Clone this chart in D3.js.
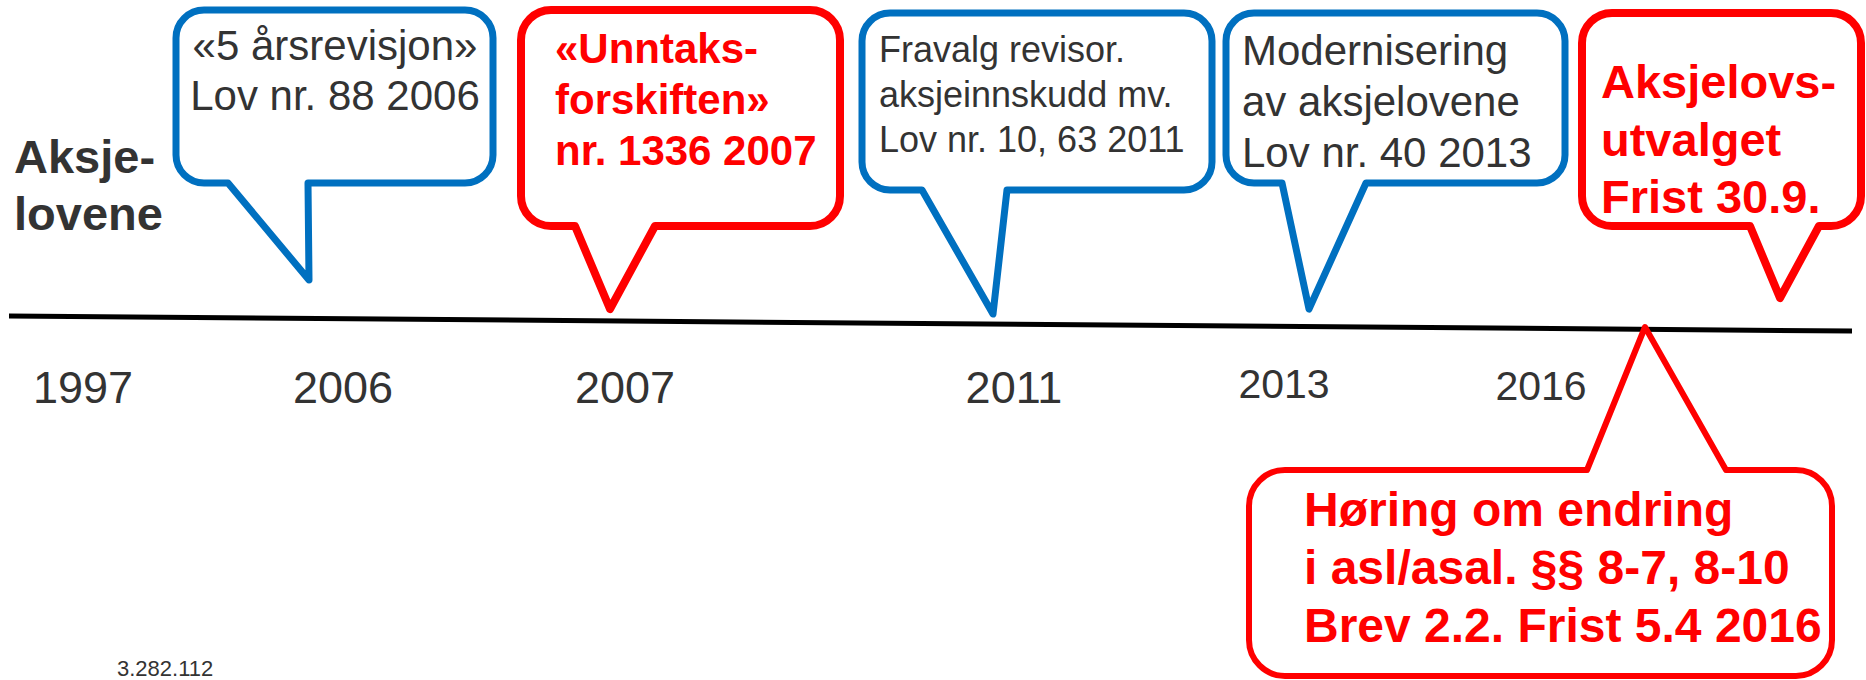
<!DOCTYPE html>
<html>
<head>
<meta charset="utf-8">
<script src="https://cdn.jsdelivr.net/npm/d3@7"></script>
<style>
  html, body { margin: 0; padding: 0; background: #ffffff; }
  svg { display: block; }
  text { font-family: "Liberation Sans", Arial, Helvetica, sans-serif; }
</style>
</head>
<body>
<div id="chart"></div>
<script>
// ---------------- data ----------------
const titleLines = ["Aksje-", "lovene"];
const years = ["1997", "2006", "2007", "2011", "2013", "2016"];
const eventLines = [
  ["«5 årsrevisjon»", "Lov nr. 88 2006"],
  ["«Unntaks-", "forskiften»", "nr. 1336 2007"],
  ["Fravalg revisor.", "aksjeinnskudd mv.", "Lov nr. 10, 63 2011"],
  ["Modernisering", "av aksjelovene", "Lov nr. 40 2013"],
  ["Aksjelovs-", "utvalget", "Frist 30.9."],
  ["Høring om endring", "i asl/asal. §§ 8-7, 8-10", "Brev 2.2. Frist 5.4 2016"]
];
const eventKinds = ["law", "highlight", "law", "law", "highlight", "highlight"];
const footnote = "3.282.112";

// ---------------- layout (positions / styles) ----------------
const W = 1866, H = 680;
const timelineEnds = [[9, 316], [1852, 331]];
const yearCenters = [83, 343, 625, 1014, 1284, 1541];
const yearBaselines = [403, 403, 403, 403, 398, 400];
const yearSizes = [45, 45, 45, 45, 41, 41];

const bubbleLayout = [
  { x0: 176, y0: 10, x1: 493, y1: 183, r: 28, side: "bottom", tl: 228, tr: 308, tx: 309, ty: 280, sw: 7,
    anchor: "middle", tx0: 335, base: [60, 110], size: 42, bold: false },
  { x0: 521, y0: 10, x1: 840, y1: 226, r: 30, side: "bottom", tl: 575, tr: 655, tx: 610, ty: 309, sw: 8,
    anchor: "start", tx0: 555, base: [63, 114, 165], size: 42, bold: true },
  { x0: 862, y0: 13, x1: 1212, y1: 190, r: 28, side: "bottom", tl: 922, tr: 1007, tx: 993, ty: 314, sw: 7,
    anchor: "start", tx0: 879, base: [62, 107, 152], size: 36, bold: false },
  { x0: 1226, y0: 13, x1: 1565, y1: 183, r: 28, side: "bottom", tl: 1282, tr: 1366, tx: 1309, ty: 309, sw: 7,
    anchor: "start", tx0: 1242, base: [65, 116, 167], size: 42, bold: false },
  { x0: 1582, y0: 13, x1: 1861, y1: 226, r: 30, side: "bottom", tl: 1750, tr: 1819, tx: 1780, ty: 298, sw: 8,
    anchor: "start", tx0: 1601, base: [98, 156, 213], size: 47, bold: true },
  { x0: 1249, y0: 470, x1: 1832, y1: 676, r: 36, side: "top", tl: 1587, tr: 1726, tx: 1645, ty: 327, sw: 6,
    anchor: "start", tx0: 1304, base: [526, 584, 642], size: 48, bold: true }
];

const strokeColor = d3.scaleOrdinal().domain(["law", "highlight"]).range(["#0070C0", "#FF0000"]);
const textColor = d3.scaleOrdinal().domain(["law", "highlight"]).range(["#333333", "#FF0000"]);

// ---------------- drawing ----------------
const svg = d3.select("#chart").append("svg")
  .attr("width", W).attr("height", H)
  .attr("viewBox", `0 0 ${W} ${H}`);

// title
svg.append("text")
  .attr("x", 14).attr("y", 173)
  .attr("font-size", 47).attr("font-weight", "bold").attr("fill", "#333333")
  .selectAll("tspan").data(titleLines).join("tspan")
  .attr("x", 14).attr("y", (d, i) => 173 + i * 57)
  .text(d => d);

// timeline
const line = d3.line();
svg.append("path")
  .attr("d", line(timelineEnds))
  .attr("fill", "none").attr("stroke", "#000000").attr("stroke-width", 5);

// year labels
const xYear = d3.scaleOrdinal().domain(years).range(yearCenters);
svg.append("g").selectAll("text").data(years).join("text")
  .attr("x", d => xYear(d))
  .attr("y", (d, i) => yearBaselines[i])
  .attr("font-size", (d, i) => yearSizes[i])
  .attr("text-anchor", "middle")
  .attr("fill", "#333333")
  .text(d => d);

// bubbles
function bubblePath(b) {
  const p = d3.path();
  const { x0, y0, x1, y1, r, tl, tr, tx, ty } = b;
  if (b.side === "bottom") {
    p.moveTo(x0 + r, y0);
    p.lineTo(x1 - r, y0); p.arcTo(x1, y0, x1, y0 + r, r);
    p.lineTo(x1, y1 - r); p.arcTo(x1, y1, x1 - r, y1, r);
    p.lineTo(tr, y1); p.lineTo(tx, ty); p.lineTo(tl, y1);
    p.lineTo(x0 + r, y1); p.arcTo(x0, y1, x0, y1 - r, r);
    p.lineTo(x0, y0 + r); p.arcTo(x0, y0, x0 + r, y0, r);
  } else {
    p.moveTo(x0 + r, y0);
    p.lineTo(tl, y0); p.lineTo(tx, ty); p.lineTo(tr, y0);
    p.lineTo(x1 - r, y0); p.arcTo(x1, y0, x1, y0 + r, r);
    p.lineTo(x1, y1 - r); p.arcTo(x1, y1, x1 - r, y1, r);
    p.lineTo(x0 + r, y1); p.arcTo(x0, y1, x0, y1 - r, r);
    p.lineTo(x0, y0 + r); p.arcTo(x0, y0, x0 + r, y0, r);
  }
  p.closePath();
  return p.toString();
}

const events = eventLines.map((lines, i) => ({ lines, kind: eventKinds[i], lay: bubbleLayout[i] }));

const g = svg.append("g").selectAll("g").data(events).join("g");
g.append("path")
  .attr("d", d => bubblePath(d.lay))
  .attr("fill", "#ffffff")
  .attr("stroke", d => strokeColor(d.kind))
  .attr("stroke-width", d => d.lay.sw)
  .attr("stroke-linejoin", "round");

g.append("text")
  .attr("font-size", d => d.lay.size)
  .attr("font-weight", d => d.lay.bold ? "bold" : "normal")
  .attr("text-anchor", d => d.lay.anchor)
  .attr("fill", d => textColor(d.kind))
  .each(function(d) {
    d3.select(this).selectAll("tspan").data(d.lines).join("tspan")
      .attr("x", d.lay.tx0)
      .attr("y", (t, j) => d.lay.base[j])
      .text(t => t);
  });

// footnote
svg.append("text")
  .attr("x", 117).attr("y", 676)
  .attr("font-size", 22).attr("fill", "#333333")
  .text(footnote);
</script>
</body>
</html>
